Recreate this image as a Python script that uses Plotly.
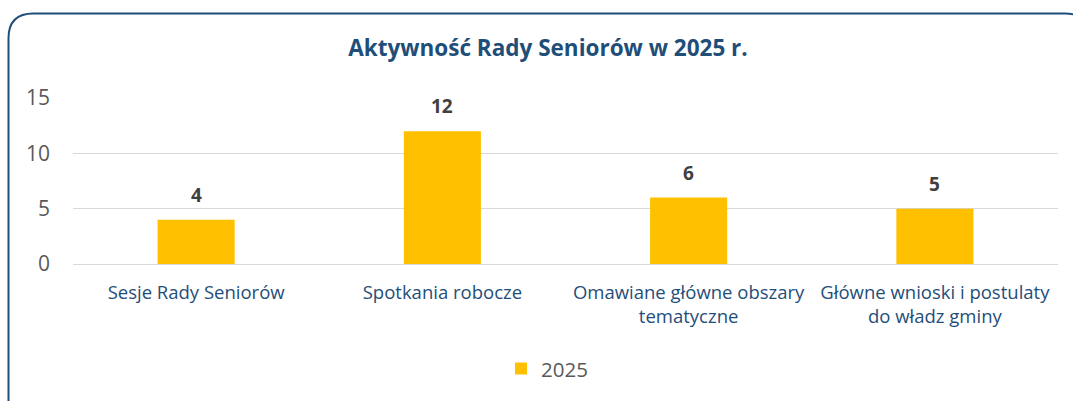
import plotly.graph_objects as go

categories = ["Sesje Rady Seniorów", "Spotkania robocze",
              "Omawiane główne obszary<br>tematyczne",
              "Główne wnioski i postulaty<br>do władz gminy"]
values = [4, 12, 6, 5]
series_name = "2025"
title_text = "Aktywność Rady Seniorów w 2025 r."
y_ticks = [0, 5, 10, 15]

W, H = 1073, 401
ML, MR, MT, MB = 73, 15, 98, 135
PW, PH = W - ML - MR, H - MT - MB

def px(x):
    return (x - ML) / PW

def py(y):
    return (H - MB - y) / PH

FONT = "Open Sans"
BLUE = "#1F4E79"

fig = go.Figure()
fig.add_trace(go.Bar(x=categories, y=values, name=series_name,
                     marker=dict(color="#FFC000", line=dict(width=0)),
                     hoverinfo="skip"))

for c, v in zip(categories, values):
    fig.add_annotation(x=c, y=v, text=f"<b>{v}</b>", showarrow=False,
                       yanchor="middle", yshift=25,
                       font=dict(family=FONT, size=19, color="#404040"))

# rounded border
L, T, R, B, r = 8.5, 12.5, 1090, 420, 25
path = (f"M {px(L)},{py(B)} L {px(L)},{py(T + r)} "
        f"Q {px(L)},{py(T)} {px(L + r)},{py(T)} "
        f"L {px(R - r)},{py(T)} Q {px(R)},{py(T)} {px(R)},{py(T + r)} "
        f"L {px(R)},{py(B)}")
fig.add_shape(type="path", path=path, xref="paper", yref="paper",
              line=dict(color=BLUE, width=2), layer="above")

fig.update_layout(
    width=W, height=H,
    margin=dict(l=ML, r=MR, t=MT, b=MB),
    paper_bgcolor="white", plot_bgcolor="white",
    bargap=0.687,
    title=dict(text=f"<b>{title_text}</b>", x=548 / W, xanchor="center",
               y=1 - 48 / H, yanchor="middle",
               font=dict(family=FONT, size=22.5, color=BLUE)),
    showlegend=True,
    legend=dict(orientation="h", x=px(547), xanchor="center",
                y=py(372), yanchor="middle",
                font=dict(family=FONT, size=20.5, color="#595959"),
                itemwidth=30),
    xaxis=dict(showgrid=False, showline=False, ticks="",
               tickfont=dict(family=FONT, size=18.5, color=BLUE),
               ticklabelstandoff=15),
    yaxis=dict(range=[0, 15], tickvals=y_ticks, showgrid=True,
               gridcolor="#D9D9D9", gridwidth=1, zeroline=True,
               zerolinecolor="#D9D9D9", zerolinewidth=1, showline=False,
               ticks="", tickfont=dict(family=FONT, size=21, color="#595959"),
               ticklabelstandoff=22),
)

fig.write_html("out.html", config={"displayModeBar": False},
               post_script="document.body.style.margin='0';")
